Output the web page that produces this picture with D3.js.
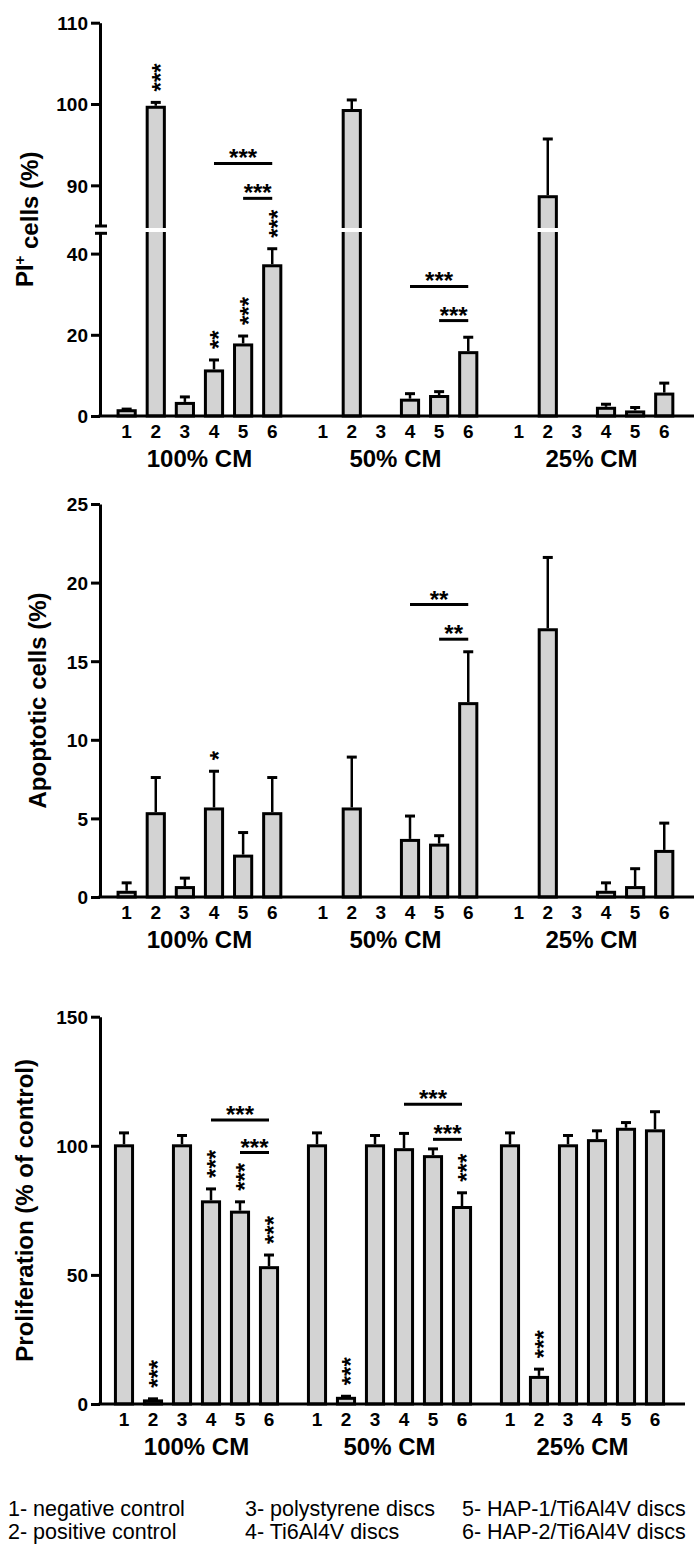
<!DOCTYPE html>
<html>
<head>
<meta charset="utf-8">
<script src="https://cdn.jsdelivr.net/npm/d3@7"></script>
<style>
  body { margin: 0; background: #fff; }
  svg text { font-family: Arial, "Liberation Sans", sans-serif; }
</style>
</head>
<body>
<div id="chart"></div>
<script>
// categories
const groups = ["100% CM", "50% CM", "25% CM"];
const conditions = ["1", "2", "3", "4", "5", "6"];

// PI+ cells (%) - mean and upper error per group (null = no bar)
const piMean = [[1.3, 99.6, 3.1, 11.1, 17.5, 37.0], [null, 99.2, null, 3.9, 4.8, 15.6], [null, 88.6, null, 1.9, 1.0, 5.4]];
const piErr = [[0.4, 0.6, 1.6, 2.7, 2.2, 4.2], [null, 1.3, null, 1.6, 1.2, 3.8], [null, 7.1, null, 1.0, 1.1, 2.7]];

// Apoptotic cells (%)
const apoMean = [[0.3, 5.3, 0.6, 5.6, 2.6, 5.3], [null, 5.6, null, 3.6, 3.3, 12.3], [null, 17.0, null, 0.3, 0.6, 2.9]];
const apoErr = [[0.6, 2.3, 0.6, 2.4, 1.5, 2.3], [null, 3.3, null, 1.55, 0.6, 3.3], [null, 4.6, null, 0.6, 1.2, 1.8]];

// Proliferation (% of control)
const proMean = [[100, 1.2, 100, 78.3, 74.3, 52.8], [100, 2.2, 100, 98.5, 95.8, 76.1], [100, 10.3, 100, 102, 106.4, 105.8]];
const proErr = [[5, 0.8, 4, 5, 4, 4.9], [5, 0.8, 4, 6.3, 3, 5.7], [5, 3.2, 4, 3.8, 2.6, 7.4]];

// significance over single bars: [group, condition, label]
const piStars = [[0, "2", "***"], [0, "4", "**"], [0, "5", "***"], [0, "6", "***"]];
const apoStars = [[0, "4", "*"]];
const proStars = [[0, "2", "***"], [0, "4", "***"], [0, "5", "***"], [0, "6", "***"], [1, "2", "***"], [1, "6", "***"], [2, "2", "***"]];

// comparison lines: [group, from, to, level (data units), label]
const piBrackets = [[0, "4", "6", 92.7, "***"], [0, "5", "6", 88.4, "***"], [1, "4", "6", 31.9, "***"], [1, "5", "6", 23.5, "***"]];
const apoBrackets = [[1, "4", "6", 18.6, "**"], [1, "5", "6", 16.4, "**"]];
const proBrackets = [[0, "4", "6", 110, "***"], [0, "5", "6", 97.4, "***"], [1, "4", "6", 116.1, "***"], [1, "5", "6", 102.5, "***"]];

// legend
const legendItems = ["1- negative control", "2- positive control", "3- polystyrene discs", "4- Ti6Al4V discs", "5- HAP-1/Ti6Al4V discs", "6- HAP-2/Ti6Al4V discs"];

const W = 694, H = 1546;
const axisX = 100;

const svg = d3.select("#chart").append("svg")
  .attr("width", W)
  .attr("height", H)
  .style("background", "#fff");

// PI panel has a broken y axis: 0-45 and 85-110
const piLow = d3.scaleLinear().domain([0, 45]).range([416, 233.3]);
const piHigh = d3.scaleLinear().domain([85, 110]).range([226, 22.7]);
const piY = v => v <= 45 ? piLow(v) : piHigh(v);

const apoY = d3.scaleLinear().domain([0, 25]).range([897, 504]);
const proY = d3.scaleLinear().domain([0, 150]).range([1404, 1016.7]);

const panels = [
  {
    mean: piMean, err: piErr, y: piY, base: 416, top: 22.7,
    xRange: [100, 690.9], pIn: 0.1087, pOut: 0.0617, axisEnd: 694,
    title: "PI", sup: "+", titleRest: " cells (%)", titleX: 33,
    stars: piStars, brackets: piBrackets,
    axes: [{ s: piLow, ticks: [0, 20, 40] }, { s: piHigh, ticks: [90, 100, 110] }],
    breakAt: [226, 233.3]
  },
  {
    mean: apoMean, err: apoErr, y: apoY, base: 897, top: 504,
    xRange: [100, 690.9], pIn: 0.1087, pOut: 0.0617, axisEnd: 694,
    title: "Apoptotic cells (%)", titleX: 46,
    stars: apoStars, brackets: apoBrackets,
    axes: [{ s: apoY, ticks: [0, 5, 10, 15, 20, 25] }]
  },
  {
    mean: proMean, err: proErr, y: proY, base: 1404, top: 1016.7,
    xRange: [100, 679], pIn: 0.0984, pOut: 0.0492, axisEnd: 685,
    title: "Proliferation (% of control)", titleX: 33,
    stars: proStars, brackets: proBrackets,
    axes: [{ s: proY, ticks: [0, 50, 100, 150] }]
  }
];

panels.forEach(drawPanel);

function drawPanel(p) {
  const g = svg.append("g");

  // x scales: groups, then conditions inside each group
  const gx = d3.scaleBand().domain(groups).range(p.xRange)
    .paddingInner(p.pIn).paddingOuter(p.pOut);
  const bx = d3.scaleBand().domain(conditions).range([0, gx.bandwidth()])
    .paddingInner(0.41).paddingOuter(0.205);
  const cx = (gi, c) => gx(groups[gi]) + bx(c) + bx.bandwidth() / 2;

  // bars
  const rows = [];
  p.mean.forEach((vals, gi) => vals.forEach((v, ci) => {
    if (v !== null) rows.push({ gi, c: conditions[ci], v, e: p.err[gi][ci] });
  }));

  g.selectAll(".bar").data(rows).enter().append("rect")
    .attr("class", "bar")
    .attr("x", d => gx(groups[d.gi]) + bx(d.c))
    .attr("width", bx.bandwidth())
    .attr("y", d => p.y(d.v))
    .attr("height", d => p.base - p.y(d.v))
    .attr("fill", "#d3d3d3")
    .attr("stroke", "#000")
    .attr("stroke-width", 3);

  // error bars (upper only)
  g.selectAll(".err").data(rows).enter().append("line")
    .attr("x1", d => cx(d.gi, d.c)).attr("x2", d => cx(d.gi, d.c))
    .attr("y1", d => p.y(d.v) - 1.5).attr("y2", d => p.y(d.v + d.e))
    .attr("stroke", "#000").attr("stroke-width", 2.5);
  g.selectAll(".cap").data(rows).enter().append("line")
    .attr("x1", d => cx(d.gi, d.c) - 5).attr("x2", d => cx(d.gi, d.c) + 5)
    .attr("y1", d => p.y(d.v + d.e)).attr("y2", d => p.y(d.v + d.e))
    .attr("stroke", "#000").attr("stroke-width", 3);

  // white gap through the bars at the axis break
  if (p.breakAt) {
    const [b1, b2] = p.breakAt;
    g.selectAll(".gap").data(rows.filter(d => d.v > 45)).enter().append("rect")
      .attr("x", d => gx(groups[d.gi]) + bx(d.c) - 3)
      .attr("width", bx.bandwidth() + 6)
      .attr("y", b1 + 2).attr("height", b2 - b1 - 3.3)
      .attr("fill", "#fff");
  }

  // y axis
  p.axes.forEach(a => {
    const ax = g.append("g")
      .attr("transform", `translate(${axisX},0)`)
      .call(d3.axisLeft(a.s).tickValues(a.ticks).tickSize(9).tickSizeOuter(0).tickPadding(3));
    ax.select(".domain").attr("stroke-width", 3);
    ax.selectAll(".tick line").attr("stroke-width", 3);
    ax.selectAll(".tick text")
      .attr("fill", "#000")
      .style("font-size", "19px")
      .style("font-weight", "bold")
      .attr("dy", "0.36em");
  });
  if (p.breakAt) {
    g.selectAll(".brk").data(p.breakAt).enter().append("line")
      .attr("x1", axisX - 5).attr("x2", axisX + 7)
      .attr("y1", d => d).attr("y2", d => d)
      .attr("stroke", "#000").attr("stroke-width", 3);
  }

  // x axis line
  g.append("line")
    .attr("x1", axisX - 1.5).attr("x2", p.axisEnd)
    .attr("y1", p.base).attr("y2", p.base)
    .attr("stroke", "#000").attr("stroke-width", 3);

  // condition labels under each group
  groups.forEach(name => {
    const ax = g.append("g")
      .attr("transform", `translate(${gx(name)},${p.base})`)
      .call(d3.axisBottom(bx).tickSize(0).tickPadding(8.5));
    ax.select(".domain").remove();
    ax.selectAll(".tick text")
      .attr("fill", "#000")
      .style("font-size", "19px")
      .style("font-weight", "bold");
  });

  // group labels
  g.selectAll(".glabel").data(groups).enter().append("text")
    .attr("x", d => gx(d) + gx.bandwidth() / 2)
    .attr("y", p.base + 51)
    .attr("text-anchor", "middle")
    .style("font-size", "24px")
    .style("font-weight", "bold")
    .text(d => d);

  // y title
  const t = g.append("text")
    .attr("transform", `translate(${p.titleX},${(p.base + p.top) / 2}) rotate(-90)`)
    .attr("text-anchor", "middle")
    .style("font-size", "24px")
    .style("font-weight", "bold");
  if (p.sup) {
    t.append("tspan").text(p.title);
    t.append("tspan").attr("dy", "-0.55em").style("font-size", "15px").text(p.sup);
    t.append("tspan").attr("dy", "0.55em").text(p.titleRest);
  } else {
    t.text(p.title);
  }

  // stars over single bars (vertical)
  g.selectAll(".vstar").data(p.stars).enter().append("text")
    .attr("transform", d => {
      const ci = conditions.indexOf(d[1]);
      const top = p.y(p.mean[d[0]][ci] + p.err[d[0]][ci]);
      return `translate(${cx(d[0], d[1])},${top - 11}) rotate(-90)`;
    })
    .attr("dy", "0.56em")
    .style("font-size", "24px")
    .style("font-weight", "bold")
    .text(d => d[2]);

  // comparison lines
  g.selectAll(".bline").data(p.brackets).enter().append("line")
    .attr("x1", d => cx(d[0], d[1]))
    .attr("x2", d => cx(d[0], d[2]))
    .attr("y1", d => p.y(d[3])).attr("y2", d => p.y(d[3]))
    .attr("stroke", "#000").attr("stroke-width", 3);
  g.selectAll(".blabel").data(p.brackets).enter().append("text")
    .attr("x", d => (cx(d[0], d[1]) + cx(d[0], d[2])) / 2)
    .attr("y", d => p.y(d[3]) + 3)
    .attr("text-anchor", "middle")
    .style("font-size", "24px")
    .style("font-weight", "bold")
    .text(d => d[4]);
}

// legend, three columns of two rows
const legX = [8, 245, 462];
const legY = [1516, 1539];
svg.selectAll(".leg").data(legendItems).enter().append("text")
  .attr("x", (d, i) => legX[Math.floor(i / 2)])
  .attr("y", (d, i) => legY[i % 2])
  .style("font-size", "21.5px")
  .text(d => d);
</script>
</body>
</html>
